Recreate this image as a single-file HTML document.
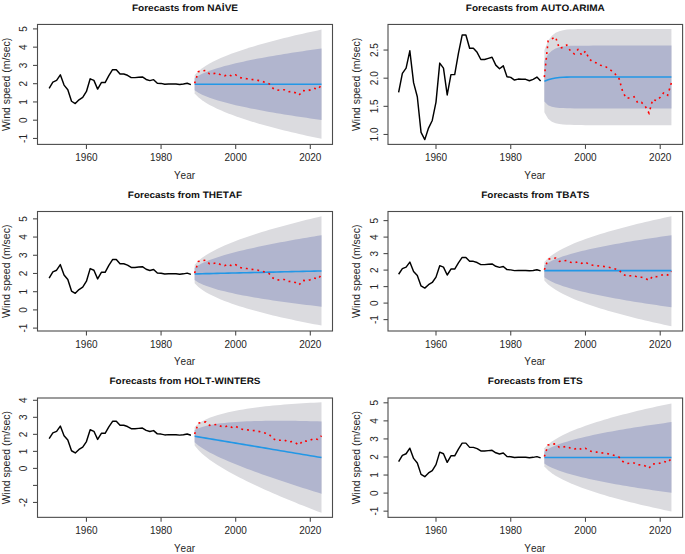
<!DOCTYPE html>
<html><head><meta charset="utf-8"><style>
html,body{margin:0;padding:0;background:#fff;}
svg{display:block;}
text{font-kerning:none;}
.t{font-family:"Liberation Sans",sans-serif;font-size:10px;fill:#262626;}
.yl{font-family:"Liberation Sans",sans-serif;font-size:10.5px;fill:#262626;}
.ti{text-rendering:geometricPrecision;font-family:"Liberation Sans",sans-serif;font-size:9.3px;font-weight:bold;fill:#111;}
</style></head><body>
<svg width="685" height="554" viewBox="0 0 685 554">
<rect width="685" height="554" fill="#fff"/>
<g><polygon points="194.65,93.46 198.38,97.29 202.11,100.22 205.84,102.7 209.57,104.88 213.3,106.85 217.04,108.66 220.77,110.34 224.5,111.93 228.23,113.43 231.96,114.85 235.69,116.21 239.42,117.52 243.15,118.78 246.88,119.99 250.61,121.16 254.34,122.3 258.08,123.4 261.81,124.48 265.54,125.52 269.27,126.54 273,127.54 276.73,128.51 280.46,129.46 284.19,130.4 287.92,131.31 291.65,132.21 295.39,133.09 299.12,133.95 302.85,134.8 306.58,135.64 310.31,136.46 314.04,137.27 317.77,138.07 321.5,138.86 321.5,29.6 317.77,30.39 314.04,31.18 310.31,31.99 306.58,32.82 302.85,33.65 299.12,34.5 295.39,35.37 291.65,36.25 287.92,37.14 284.19,38.06 280.46,38.99 276.73,39.94 273,40.92 269.27,41.91 265.54,42.93 261.81,43.98 258.08,45.05 254.34,46.16 250.61,47.29 246.88,48.47 243.15,49.68 239.42,50.94 235.69,52.24 231.96,53.6 228.23,55.03 224.5,56.53 220.77,58.11 217.04,59.8 213.3,61.61 209.57,63.58 205.84,65.76 202.11,68.23 198.38,71.17 194.65,74.99" fill="#DBDBDF"/><polygon points="194.65,90.27 198.38,92.77 202.11,94.69 205.84,96.3 209.57,97.73 213.3,99.02 217.04,100.2 220.77,101.31 224.5,102.34 228.23,103.32 231.96,104.25 235.69,105.14 239.42,106 243.15,106.82 246.88,107.61 250.61,108.38 254.34,109.12 258.08,109.84 261.81,110.55 265.54,111.23 269.27,111.9 273,112.55 276.73,113.18 280.46,113.81 284.19,114.42 287.92,115.01 291.65,115.6 295.39,116.18 299.12,116.74 302.85,117.3 306.58,117.84 310.31,118.38 314.04,118.91 317.77,119.43 321.5,119.95 321.5,48.51 317.77,49.02 314.04,49.54 310.31,50.07 306.58,50.61 302.85,51.16 299.12,51.71 295.39,52.28 291.65,52.85 287.92,53.44 284.19,54.04 280.46,54.65 276.73,55.27 273,55.91 269.27,56.56 265.54,57.23 261.81,57.91 258.08,58.61 254.34,59.33 250.61,60.08 246.88,60.84 243.15,61.64 239.42,62.46 235.69,63.31 231.96,64.2 228.23,65.13 224.5,66.11 220.77,67.15 217.04,68.25 213.3,69.44 209.57,70.73 205.84,72.15 202.11,73.77 198.38,75.69 194.65,78.19" fill="#B1B5CE"/><polyline points="49.14,88.26 52.87,82.11 56.6,80.41 60.33,74.81 64.06,85.12 67.8,89.69 71.53,101.26 75.26,103.6 78.99,99.86 82.72,97.39 86.45,91.44 90.18,78.79 93.91,80.41 97.64,89.1 101.37,82.53 105.11,82.53 108.84,75.65 112.57,69.67 116.3,69.67 120.03,73.97 123.76,73.97 127.49,75.28 131.22,77.62 134.95,77.62 138.68,77.25 142.41,76.91 146.15,79.44 149.88,80.63 153.61,79.66 157.34,83.19 161.07,83.41 164.8,84.28 168.53,83.97 172.26,84.05 175.99,84.05 179.72,84.5 183.46,84.05 187.19,83.31 190.92,84.59" fill="none" stroke="#000" stroke-width="1.45" stroke-linejoin="round"/><polyline points="194.65,84.23 198.38,84.23 202.11,84.23 205.84,84.23 209.57,84.23 213.3,84.23 217.04,84.23 220.77,84.23 224.5,84.23 228.23,84.23 231.96,84.23 235.69,84.23 239.42,84.23 243.15,84.23 246.88,84.23 250.61,84.23 254.34,84.23 258.08,84.23 261.81,84.23 265.54,84.23 269.27,84.23 273,84.23 276.73,84.23 280.46,84.23 284.19,84.23 287.92,84.23 291.65,84.23 295.39,84.23 299.12,84.23 302.85,84.23 306.58,84.23 310.31,84.23 314.04,84.23 317.77,84.23 321.5,84.23" fill="none" stroke="#2297E6" stroke-width="1.6"/><polyline points="194.65,83.31 198.38,71.63 202.11,70.9 205.84,70.35 209.57,74 213.3,73.64 217.04,72.91 220.77,74.92 224.5,75.83 228.23,74.37 231.96,76.19 235.69,74.92 239.42,77.47 243.15,78.38 246.88,78.75 250.61,79.48 254.34,79.66 258.08,80.39 261.81,81.31 265.54,82.4 269.27,83.86 273,88.25 276.73,90.25 280.46,89.98 284.19,89.71 287.92,91.71 291.65,91.53 295.39,92.81 299.12,95 302.85,90.62 306.58,90.98 310.31,89.89 314.04,88.25 317.77,89.16 321.5,85.14" fill="none" stroke="#F00" stroke-width="1.6" stroke-dasharray="1.9 3.9"/><rect x="37.5" y="24.45" width="295" height="119.95" fill="none" stroke="#4c4c4c" stroke-width="1.1"/><line x1="86.45" y1="144.4" x2="86.45" y2="148.9" stroke="#4c4c4c" stroke-width="1.1"/><text x="86.45" y="161.2" text-anchor="middle" class="t">1960</text><line x1="161.07" y1="144.4" x2="161.07" y2="148.9" stroke="#4c4c4c" stroke-width="1.1"/><text x="161.07" y="161.2" text-anchor="middle" class="t">1980</text><line x1="235.69" y1="144.4" x2="235.69" y2="148.9" stroke="#4c4c4c" stroke-width="1.1"/><text x="235.69" y="161.2" text-anchor="middle" class="t">2000</text><line x1="310.31" y1="144.4" x2="310.31" y2="148.9" stroke="#4c4c4c" stroke-width="1.1"/><text x="310.31" y="161.2" text-anchor="middle" class="t">2020</text><line x1="33" y1="138.46" x2="37.5" y2="138.46" stroke="#4c4c4c" stroke-width="1.1"/><text transform="translate(27,138.46) rotate(-90)" text-anchor="middle" class="t">-1</text><line x1="33" y1="120.2" x2="37.5" y2="120.2" stroke="#4c4c4c" stroke-width="1.1"/><text transform="translate(27,120.2) rotate(-90)" text-anchor="middle" class="t">0</text><line x1="33" y1="101.94" x2="37.5" y2="101.94" stroke="#4c4c4c" stroke-width="1.1"/><text transform="translate(27,101.94) rotate(-90)" text-anchor="middle" class="t">1</text><line x1="33" y1="83.68" x2="37.5" y2="83.68" stroke="#4c4c4c" stroke-width="1.1"/><text transform="translate(27,83.68) rotate(-90)" text-anchor="middle" class="t">2</text><line x1="33" y1="65.42" x2="37.5" y2="65.42" stroke="#4c4c4c" stroke-width="1.1"/><text transform="translate(27,65.42) rotate(-90)" text-anchor="middle" class="t">3</text><line x1="33" y1="47.16" x2="37.5" y2="47.16" stroke="#4c4c4c" stroke-width="1.1"/><text transform="translate(27,47.16) rotate(-90)" text-anchor="middle" class="t">4</text><line x1="33" y1="28.9" x2="37.5" y2="28.9" stroke="#4c4c4c" stroke-width="1.1"/><text transform="translate(27,28.9) rotate(-90)" text-anchor="middle" class="t">5</text><text x="184.5" y="178.7" text-anchor="middle" class="t">Year</text><text transform="translate(9.5,84.42) rotate(-90)" text-anchor="middle" class="yl">Wind speed (m/sec)</text><text x="185" y="10.85" text-anchor="middle" class="ti" textLength="106.19" lengthAdjust="spacingAndGlyphs">Forecasts from NAİVE</text></g>
<g><polygon points="544.37,112.18 548.11,118.74 551.85,121.74 555.58,123.2 559.32,123.98 563.06,124.41 566.8,124.65 570.53,124.83 574.27,124.97 578.01,125.05 581.74,125.1 585.48,125.13 589.22,125.14 592.95,125.15 596.69,125.16 600.43,125.16 604.16,125.16 607.9,125.17 611.64,125.17 615.38,125.17 619.11,125.17 622.85,125.17 626.59,125.17 630.32,125.17 634.06,125.17 637.8,125.17 641.53,125.17 645.27,125.17 649.01,125.17 652.75,125.17 656.48,125.17 660.22,125.17 663.96,125.17 667.69,125.17 671.43,125.17 671.43,28.96 667.69,28.96 663.96,28.96 660.22,28.96 656.48,28.96 652.75,28.96 649.01,28.96 645.27,28.96 641.53,28.96 637.8,28.96 634.06,28.96 630.32,28.96 626.59,28.96 622.85,28.96 619.11,28.96 615.38,28.96 611.64,28.96 607.9,28.96 604.16,28.96 600.43,28.97 596.69,28.97 592.95,28.97 589.22,28.98 585.48,29 581.74,29.03 578.01,29.08 574.27,29.16 570.53,29.3 566.8,29.59 563.06,30.17 559.32,31.16 555.58,32.84 551.85,35.76 548.11,40.79 544.37,50.28" fill="#DBDBDF"/><polygon points="544.37,101.47 548.11,105.25 551.85,106.86 555.58,107.56 559.32,107.92 563.06,108.1 566.8,108.2 570.53,108.3 574.27,108.39 578.01,108.44 581.74,108.47 585.48,108.49 589.22,108.5 592.95,108.51 596.69,108.51 600.43,108.51 604.16,108.52 607.9,108.52 611.64,108.52 615.38,108.52 619.11,108.52 622.85,108.52 626.59,108.52 630.32,108.52 634.06,108.52 637.8,108.52 641.53,108.52 645.27,108.52 649.01,108.52 652.75,108.52 656.48,108.52 660.22,108.52 663.96,108.52 667.69,108.52 671.43,108.52 671.43,45.61 667.69,45.61 663.96,45.61 660.22,45.61 656.48,45.61 652.75,45.61 649.01,45.61 645.27,45.61 641.53,45.61 637.8,45.61 634.06,45.61 630.32,45.61 626.59,45.61 622.85,45.61 619.11,45.61 615.38,45.61 611.64,45.61 607.9,45.61 604.16,45.61 600.43,45.61 596.69,45.62 592.95,45.62 589.22,45.63 585.48,45.64 581.74,45.65 578.01,45.69 574.27,45.74 570.53,45.83 566.8,46.04 563.06,46.48 559.32,47.22 555.58,48.48 551.85,50.64 548.11,54.28 544.37,60.99" fill="#B1B5CE"/><polyline points="398.63,92.32 402.37,73.35 406.1,68.11 409.84,50.83 413.58,82.64 417.31,96.71 421.05,132.4 424.79,139.6 428.53,128.06 432.26,120.46 436,102.11 439.74,63.1 443.47,68.11 447.21,94.91 450.95,74.64 454.69,74.64 458.42,53.42 462.16,35.02 465.9,35.02 469.63,48.24 473.37,48.24 477.11,52.3 480.84,59.5 484.58,59.5 488.32,58.38 492.06,57.31 495.79,65.13 499.53,68.79 503.27,65.81 507,76.67 510.74,77.35 514.48,80.05 518.21,79.09 521.95,79.32 525.69,79.32 529.42,80.72 533.16,79.32 536.9,77.06 540.64,81" fill="none" stroke="#000" stroke-width="1.45" stroke-linejoin="round"/><polyline points="544.37,81.23 548.11,79.77 551.85,78.75 555.58,78.02 559.32,77.57 563.06,77.29 566.8,77.12 570.53,77.06 574.27,77.06 578.01,77.06 581.74,77.06 585.48,77.06 589.22,77.06 592.95,77.06 596.69,77.06 600.43,77.06 604.16,77.06 607.9,77.06 611.64,77.06 615.38,77.06 619.11,77.06 622.85,77.06 626.59,77.06 630.32,77.06 634.06,77.06 637.8,77.06 641.53,77.06 645.27,77.06 649.01,77.06 652.75,77.06 656.48,77.06 660.22,77.06 663.96,77.06 667.69,77.06 671.43,77.06" fill="none" stroke="#2297E6" stroke-width="1.6"/><polyline points="544.37,77.06 548.11,41.04 551.85,38.79 555.58,37.1 559.32,48.36 563.06,47.23 566.8,44.98 570.53,51.17 574.27,53.99 578.01,49.48 581.74,55.11 585.48,51.17 589.22,59.05 592.95,61.87 596.69,62.99 600.43,65.24 604.16,65.81 607.9,68.06 611.64,70.87 615.38,74.25 619.11,78.75 622.85,92.26 626.59,98.45 630.32,97.61 634.06,96.77 637.8,102.96 641.53,102.39 645.27,106.34 649.01,113.09 652.75,99.58 656.48,100.71 660.22,97.33 663.96,92.26 667.69,95.08 671.43,82.69" fill="none" stroke="#F00" stroke-width="1.6" stroke-dasharray="1.9 3.9"/><rect x="388.0" y="24.45" width="294.6" height="119.95" fill="none" stroke="#4c4c4c" stroke-width="1.1"/><line x1="436" y1="144.4" x2="436" y2="148.9" stroke="#4c4c4c" stroke-width="1.1"/><text x="436" y="161.2" text-anchor="middle" class="t">1960</text><line x1="510.74" y1="144.4" x2="510.74" y2="148.9" stroke="#4c4c4c" stroke-width="1.1"/><text x="510.74" y="161.2" text-anchor="middle" class="t">1980</text><line x1="585.48" y1="144.4" x2="585.48" y2="148.9" stroke="#4c4c4c" stroke-width="1.1"/><text x="585.48" y="161.2" text-anchor="middle" class="t">2000</text><line x1="660.22" y1="144.4" x2="660.22" y2="148.9" stroke="#4c4c4c" stroke-width="1.1"/><text x="660.22" y="161.2" text-anchor="middle" class="t">2020</text><line x1="383.5" y1="134.48" x2="388.0" y2="134.48" stroke="#4c4c4c" stroke-width="1.1"/><text transform="translate(377.5,134.48) rotate(-90)" text-anchor="middle" class="t">1.0</text><line x1="383.5" y1="106.34" x2="388.0" y2="106.34" stroke="#4c4c4c" stroke-width="1.1"/><text transform="translate(377.5,106.34) rotate(-90)" text-anchor="middle" class="t">1.5</text><line x1="383.5" y1="78.19" x2="388.0" y2="78.19" stroke="#4c4c4c" stroke-width="1.1"/><text transform="translate(377.5,78.19) rotate(-90)" text-anchor="middle" class="t">2.0</text><line x1="383.5" y1="50.05" x2="388.0" y2="50.05" stroke="#4c4c4c" stroke-width="1.1"/><text transform="translate(377.5,50.05) rotate(-90)" text-anchor="middle" class="t">2.5</text><text x="534.8" y="178.7" text-anchor="middle" class="t">Year</text><text transform="translate(360,84.42) rotate(-90)" text-anchor="middle" class="yl">Wind speed (m/sec)</text><text x="535.3" y="10.85" text-anchor="middle" class="ti" textLength="138.96" lengthAdjust="spacingAndGlyphs">Forecasts from AUTO.ARIMA</text></g>
<g><polygon points="194.65,283.17 198.38,286.9 202.11,289.75 205.84,292.14 209.57,294.23 213.3,296.11 217.04,297.83 220.77,299.43 224.5,300.93 228.23,302.34 231.96,303.68 235.69,304.95 239.42,306.17 243.15,307.33 246.88,308.46 250.61,309.54 254.34,310.59 258.08,311.61 261.81,312.59 265.54,313.55 269.27,314.48 273,315.39 276.73,316.27 280.46,317.14 284.19,317.98 287.92,318.81 291.65,319.62 295.39,320.41 299.12,321.18 302.85,321.95 306.58,322.69 310.31,323.43 314.04,324.15 317.77,324.86 321.5,325.56 321.5,216.3 317.77,217.18 314.04,218.07 310.31,218.96 306.58,219.87 302.85,220.8 299.12,221.74 295.39,222.69 291.65,223.66 287.92,224.64 284.19,225.65 280.46,226.67 276.73,227.71 273,228.77 269.27,229.85 265.54,230.96 261.81,232.1 258.08,233.26 254.34,234.45 250.61,235.68 246.88,236.94 243.15,238.24 239.42,239.58 235.69,240.98 231.96,242.43 228.23,243.94 224.5,245.53 220.77,247.2 217.04,248.98 213.3,250.88 209.57,252.94 205.84,255.2 202.11,257.77 198.38,260.79 194.65,264.7" fill="#DBDBDF"/><polygon points="194.65,279.97 198.38,282.39 202.11,284.22 205.84,285.75 209.57,287.08 213.3,288.28 217.04,289.38 220.77,290.39 224.5,291.34 228.23,292.23 231.96,293.08 235.69,293.88 239.42,294.64 243.15,295.38 246.88,296.08 250.61,296.76 254.34,297.41 258.08,298.05 261.81,298.66 265.54,299.26 269.27,299.84 273,300.4 276.73,300.95 280.46,301.48 284.19,302 287.92,302.51 291.65,303.01 295.39,303.5 299.12,303.97 302.85,304.44 306.58,304.9 310.31,305.35 314.04,305.79 317.77,306.22 321.5,306.65 321.5,235.21 317.77,235.81 314.04,236.42 310.31,237.04 306.58,237.67 302.85,238.3 299.12,238.95 295.39,239.6 291.65,240.27 287.92,240.94 284.19,241.63 280.46,242.32 276.73,243.04 273,243.76 269.27,244.5 265.54,245.26 261.81,246.03 258.08,246.82 254.34,247.63 250.61,248.46 246.88,249.31 243.15,250.2 239.42,251.11 235.69,252.05 231.96,253.03 228.23,254.05 224.5,255.12 220.77,256.24 217.04,257.43 213.3,258.7 209.57,260.08 205.84,261.6 202.11,263.3 198.38,265.31 194.65,267.9" fill="#B1B5CE"/><polyline points="49.14,278.05 52.87,271.91 56.6,270.22 60.33,264.63 64.06,274.92 67.8,279.47 71.53,291.02 75.26,293.35 78.99,289.61 82.72,287.16 86.45,281.22 90.18,268.6 93.91,270.22 97.64,278.89 101.37,272.33 105.11,272.33 108.84,265.47 112.57,259.51 116.3,259.51 120.03,263.79 123.76,263.79 127.49,265.1 131.22,267.43 134.95,267.43 138.68,267.07 142.41,266.72 146.15,269.26 149.88,270.44 153.61,269.47 157.34,272.99 161.07,273.21 164.8,274.08 168.53,273.77 172.26,273.84 175.99,273.84 179.72,274.3 183.46,273.84 187.19,273.12 190.92,274.39" fill="none" stroke="#000" stroke-width="1.45" stroke-linejoin="round"/><polyline points="194.65,273.94 198.38,273.85 202.11,273.76 205.84,273.67 209.57,273.58 213.3,273.49 217.04,273.41 220.77,273.32 224.5,273.23 228.23,273.14 231.96,273.05 235.69,272.96 239.42,272.87 243.15,272.79 246.88,272.7 250.61,272.61 254.34,272.52 258.08,272.43 261.81,272.34 265.54,272.26 269.27,272.17 273,272.08 276.73,271.99 280.46,271.9 284.19,271.81 287.92,271.73 291.65,271.64 295.39,271.55 299.12,271.46 302.85,271.37 306.58,271.28 310.31,271.2 314.04,271.11 317.77,271.02 321.5,270.93" fill="none" stroke="#2297E6" stroke-width="1.6"/><polyline points="194.65,273.12 198.38,261.46 202.11,260.73 205.84,260.19 209.57,263.83 213.3,263.46 217.04,262.74 220.77,264.74 224.5,265.65 228.23,264.19 231.96,266.01 235.69,264.74 239.42,267.29 243.15,268.2 246.88,268.56 250.61,269.29 254.34,269.47 258.08,270.2 261.81,271.11 265.54,272.21 269.27,273.66 273,278.03 276.73,280.04 280.46,279.76 284.19,279.49 287.92,281.49 291.65,281.31 295.39,282.58 299.12,284.77 302.85,280.4 306.58,280.76 310.31,279.67 314.04,278.03 317.77,278.94 321.5,274.94" fill="none" stroke="#F00" stroke-width="1.6" stroke-dasharray="1.9 3.9"/><rect x="37.5" y="211.5" width="295" height="119.5" fill="none" stroke="#4c4c4c" stroke-width="1.1"/><line x1="86.45" y1="331.0" x2="86.45" y2="335.5" stroke="#4c4c4c" stroke-width="1.1"/><text x="86.45" y="347.8" text-anchor="middle" class="t">1960</text><line x1="161.07" y1="331.0" x2="161.07" y2="335.5" stroke="#4c4c4c" stroke-width="1.1"/><text x="161.07" y="347.8" text-anchor="middle" class="t">1980</text><line x1="235.69" y1="331.0" x2="235.69" y2="335.5" stroke="#4c4c4c" stroke-width="1.1"/><text x="235.69" y="347.8" text-anchor="middle" class="t">2000</text><line x1="310.31" y1="331.0" x2="310.31" y2="335.5" stroke="#4c4c4c" stroke-width="1.1"/><text x="310.31" y="347.8" text-anchor="middle" class="t">2020</text><line x1="33" y1="328.11" x2="37.5" y2="328.11" stroke="#4c4c4c" stroke-width="1.1"/><text transform="translate(27,328.11) rotate(-90)" text-anchor="middle" class="t">-1</text><line x1="33" y1="309.9" x2="37.5" y2="309.9" stroke="#4c4c4c" stroke-width="1.1"/><text transform="translate(27,309.9) rotate(-90)" text-anchor="middle" class="t">0</text><line x1="33" y1="291.69" x2="37.5" y2="291.69" stroke="#4c4c4c" stroke-width="1.1"/><text transform="translate(27,291.69) rotate(-90)" text-anchor="middle" class="t">1</text><line x1="33" y1="273.48" x2="37.5" y2="273.48" stroke="#4c4c4c" stroke-width="1.1"/><text transform="translate(27,273.48) rotate(-90)" text-anchor="middle" class="t">2</text><line x1="33" y1="255.27" x2="37.5" y2="255.27" stroke="#4c4c4c" stroke-width="1.1"/><text transform="translate(27,255.27) rotate(-90)" text-anchor="middle" class="t">3</text><line x1="33" y1="237.06" x2="37.5" y2="237.06" stroke="#4c4c4c" stroke-width="1.1"/><text transform="translate(27,237.06) rotate(-90)" text-anchor="middle" class="t">4</text><line x1="33" y1="218.85" x2="37.5" y2="218.85" stroke="#4c4c4c" stroke-width="1.1"/><text transform="translate(27,218.85) rotate(-90)" text-anchor="middle" class="t">5</text><text x="184.5" y="365.3" text-anchor="middle" class="t">Year</text><text transform="translate(9.5,271.25) rotate(-90)" text-anchor="middle" class="yl">Wind speed (m/sec)</text><text x="185" y="197.9" text-anchor="middle" class="ti" textLength="114.33" lengthAdjust="spacingAndGlyphs">Forecasts from THETAF</text></g>
<g><polygon points="544.37,280.54 548.11,284.39 551.85,287.34 555.58,289.83 559.32,292.03 563.06,294.01 566.8,295.84 570.53,297.54 574.27,299.13 578.01,300.64 581.74,302.08 585.48,303.45 589.22,304.76 592.95,306.03 596.69,307.25 600.43,308.43 604.16,309.57 607.9,310.69 611.64,311.77 615.38,312.82 619.11,313.85 622.85,314.85 626.59,315.83 630.32,316.79 634.06,317.73 637.8,318.65 641.53,319.55 645.27,320.44 649.01,321.31 652.75,322.16 656.48,323.01 660.22,323.83 663.96,324.65 667.69,325.45 671.43,326.24 671.43,216.23 667.69,217.02 663.96,217.83 660.22,218.64 656.48,219.47 652.75,220.31 649.01,221.17 645.27,222.04 641.53,222.93 637.8,223.83 634.06,224.75 630.32,225.69 626.59,226.65 622.85,227.63 619.11,228.63 615.38,229.66 611.64,230.71 607.9,231.79 604.16,232.9 600.43,234.05 596.69,235.23 592.95,236.45 589.22,237.71 585.48,239.03 581.74,240.4 578.01,241.84 574.27,243.35 570.53,244.94 566.8,246.64 563.06,248.46 559.32,250.45 555.58,252.64 551.85,255.13 548.11,258.09 544.37,261.94" fill="#DBDBDF"/><polygon points="544.37,277.32 548.11,279.84 551.85,281.77 555.58,283.4 559.32,284.83 563.06,286.13 566.8,287.32 570.53,288.43 574.27,289.48 578.01,290.46 581.74,291.4 585.48,292.3 589.22,293.16 592.95,293.99 596.69,294.78 600.43,295.56 604.16,296.31 607.9,297.03 611.64,297.74 615.38,298.43 619.11,299.1 622.85,299.75 626.59,300.4 630.32,301.02 634.06,301.64 637.8,302.24 641.53,302.83 645.27,303.41 649.01,303.98 652.75,304.54 656.48,305.09 660.22,305.63 663.96,306.16 667.69,306.69 671.43,307.21 671.43,235.27 667.69,235.79 663.96,236.31 660.22,236.85 656.48,237.39 652.75,237.94 649.01,238.5 645.27,239.07 641.53,239.65 637.8,240.24 634.06,240.84 630.32,241.45 626.59,242.08 622.85,242.72 619.11,243.38 615.38,244.05 611.64,244.74 607.9,245.44 604.16,246.17 600.43,246.92 596.69,247.69 592.95,248.49 589.22,249.32 585.48,250.18 581.74,251.07 578.01,252.01 574.27,253 570.53,254.04 566.8,255.15 563.06,256.35 559.32,257.64 555.58,259.08 551.85,260.71 548.11,262.64 544.37,265.16" fill="#B1B5CE"/><polyline points="398.63,274.24 402.37,268.68 406.1,267.15 409.84,262.08 413.58,271.4 417.31,275.53 421.05,285.99 424.79,288.1 428.53,284.72 432.26,282.49 436,277.11 439.74,265.68 443.47,267.15 447.21,275 450.95,269.06 454.69,269.06 458.42,262.84 462.16,257.44 465.9,257.44 469.63,261.32 473.37,261.32 477.11,262.51 480.84,264.62 484.58,264.62 488.32,264.29 492.06,263.98 495.79,266.27 499.53,267.34 503.27,266.47 507,269.65 510.74,269.85 514.48,270.64 518.21,270.36 521.95,270.43 525.69,270.43 529.42,270.84 533.16,270.43 536.9,269.77 540.64,270.93" fill="none" stroke="#000" stroke-width="1.45" stroke-linejoin="round"/><polyline points="544.37,270.66 548.11,270.66 551.85,270.66 555.58,270.66 559.32,270.66 563.06,270.66 566.8,270.66 570.53,270.66 574.27,270.66 578.01,270.66 581.74,270.66 585.48,270.66 589.22,270.66 592.95,270.66 596.69,270.66 600.43,270.66 604.16,270.66 607.9,270.66 611.64,270.66 615.38,270.66 619.11,270.66 622.85,270.66 626.59,270.66 630.32,270.66 634.06,270.66 637.8,270.66 641.53,270.66 645.27,270.66 649.01,270.66 652.75,270.66 656.48,270.66 660.22,270.66 663.96,270.66 667.69,270.66 671.43,270.66" fill="none" stroke="#2297E6" stroke-width="1.6"/><polyline points="544.37,269.77 548.11,259.21 551.85,258.55 555.58,258.06 559.32,261.36 563.06,261.03 566.8,260.37 570.53,262.18 574.27,263 578.01,261.69 581.74,263.34 585.48,262.18 589.22,264.49 592.95,265.31 596.69,265.65 600.43,266.31 604.16,266.47 607.9,267.13 611.64,267.96 615.38,268.95 619.11,270.27 622.85,274.23 626.59,276.04 630.32,275.79 634.06,275.55 637.8,277.36 641.53,277.2 645.27,278.35 649.01,280.33 652.75,276.37 656.48,276.7 660.22,275.71 663.96,274.23 667.69,275.05 671.43,271.42" fill="none" stroke="#F00" stroke-width="1.6" stroke-dasharray="1.9 3.9"/><rect x="388.0" y="211.5" width="294.6" height="119.5" fill="none" stroke="#4c4c4c" stroke-width="1.1"/><line x1="436" y1="331.0" x2="436" y2="335.5" stroke="#4c4c4c" stroke-width="1.1"/><text x="436" y="347.8" text-anchor="middle" class="t">1960</text><line x1="510.74" y1="331.0" x2="510.74" y2="335.5" stroke="#4c4c4c" stroke-width="1.1"/><text x="510.74" y="347.8" text-anchor="middle" class="t">1980</text><line x1="585.48" y1="331.0" x2="585.48" y2="335.5" stroke="#4c4c4c" stroke-width="1.1"/><text x="585.48" y="347.8" text-anchor="middle" class="t">2000</text><line x1="660.22" y1="331.0" x2="660.22" y2="335.5" stroke="#4c4c4c" stroke-width="1.1"/><text x="660.22" y="347.8" text-anchor="middle" class="t">2020</text><line x1="383.5" y1="319.6" x2="388.0" y2="319.6" stroke="#4c4c4c" stroke-width="1.1"/><text transform="translate(377.5,319.6) rotate(-90)" text-anchor="middle" class="t">-1</text><line x1="383.5" y1="303.1" x2="388.0" y2="303.1" stroke="#4c4c4c" stroke-width="1.1"/><text transform="translate(377.5,303.1) rotate(-90)" text-anchor="middle" class="t">0</text><line x1="383.5" y1="286.6" x2="388.0" y2="286.6" stroke="#4c4c4c" stroke-width="1.1"/><text transform="translate(377.5,286.6) rotate(-90)" text-anchor="middle" class="t">1</text><line x1="383.5" y1="270.1" x2="388.0" y2="270.1" stroke="#4c4c4c" stroke-width="1.1"/><text transform="translate(377.5,270.1) rotate(-90)" text-anchor="middle" class="t">2</text><line x1="383.5" y1="253.6" x2="388.0" y2="253.6" stroke="#4c4c4c" stroke-width="1.1"/><text transform="translate(377.5,253.6) rotate(-90)" text-anchor="middle" class="t">3</text><line x1="383.5" y1="237.1" x2="388.0" y2="237.1" stroke="#4c4c4c" stroke-width="1.1"/><text transform="translate(377.5,237.1) rotate(-90)" text-anchor="middle" class="t">4</text><line x1="383.5" y1="220.6" x2="388.0" y2="220.6" stroke="#4c4c4c" stroke-width="1.1"/><text transform="translate(377.5,220.6) rotate(-90)" text-anchor="middle" class="t">5</text><text x="534.8" y="365.3" text-anchor="middle" class="t">Year</text><text transform="translate(360,271.25) rotate(-90)" text-anchor="middle" class="yl">Wind speed (m/sec)</text><text x="535.3" y="197.9" text-anchor="middle" class="ti" textLength="108.22" lengthAdjust="spacingAndGlyphs">Forecasts from TBATS</text></g>
<g><polygon points="194.65,445.57 198.38,450.06 202.11,453.66 205.84,456.79 209.57,459.63 213.3,462.25 217.04,464.71 220.77,467.05 224.5,469.28 228.23,471.42 231.96,473.49 235.69,475.5 239.42,477.45 243.15,479.35 246.88,481.2 250.61,483.02 254.34,484.8 258.08,486.54 261.81,488.26 265.54,489.94 269.27,491.6 273,493.24 276.73,494.85 280.46,496.44 284.19,498.02 287.92,499.57 291.65,501.11 295.39,502.62 299.12,504.13 302.85,505.62 306.58,507.09 310.31,508.55 314.04,510 317.77,511.43 321.5,512.86 321.5,402.31 317.77,402.47 314.04,402.65 310.31,402.84 306.58,403.05 302.85,403.27 299.12,403.5 295.39,403.74 291.65,404.01 287.92,404.29 284.19,404.58 280.46,404.9 276.73,405.23 273,405.59 269.27,405.97 265.54,406.37 261.81,406.8 258.08,407.26 254.34,407.75 250.61,408.27 246.88,408.83 243.15,409.43 239.42,410.07 235.69,410.77 231.96,411.52 228.23,412.33 224.5,413.22 220.77,414.19 217.04,415.27 213.3,416.48 209.57,417.84 205.84,419.42 202.11,421.3 198.38,423.64 194.65,426.88" fill="#DBDBDF"/><polygon points="194.65,442.33 198.38,445.49 202.11,448.06 205.84,450.33 209.57,452.4 213.3,454.33 217.04,456.16 220.77,457.9 224.5,459.58 228.23,461.2 231.96,462.77 235.69,464.3 239.42,465.79 243.15,467.25 246.88,468.68 250.61,470.08 254.34,471.46 258.08,472.82 261.81,474.16 265.54,475.48 269.27,476.78 273,478.07 276.73,479.34 280.46,480.6 284.19,481.85 287.92,483.08 291.65,484.3 295.39,485.51 299.12,486.71 302.85,487.9 306.58,489.09 310.31,490.26 314.04,491.42 317.77,492.58 321.5,493.73 321.5,421.44 317.77,421.33 314.04,421.23 310.31,421.14 306.58,421.05 302.85,420.98 299.12,420.91 295.39,420.86 291.65,420.81 287.92,420.78 284.19,420.75 280.46,420.74 276.73,420.74 273,420.76 269.27,420.79 265.54,420.84 261.81,420.9 258.08,420.98 254.34,421.08 250.61,421.21 246.88,421.36 243.15,421.53 239.42,421.73 235.69,421.97 231.96,422.24 228.23,422.56 224.5,422.92 220.77,423.34 217.04,423.83 213.3,424.4 209.57,425.07 205.84,425.89 202.11,426.9 198.38,428.21 194.65,430.11" fill="#B1B5CE"/><polyline points="49.14,438.62 52.87,432.89 56.6,431.3 60.33,426.08 64.06,435.69 67.8,439.95 71.53,450.75 75.26,452.92 78.99,449.43 82.72,447.14 86.45,441.59 90.18,429.79 93.91,431.3 97.64,439.41 101.37,433.28 105.11,433.28 108.84,426.86 112.57,421.29 116.3,421.29 120.03,425.29 123.76,425.29 127.49,426.52 131.22,428.7 134.95,428.7 138.68,428.36 142.41,428.03 146.15,430.4 149.88,431.51 153.61,430.6 157.34,433.89 161.07,434.09 164.8,434.91 168.53,434.62 172.26,434.69 175.99,434.69 179.72,435.12 183.46,434.69 187.19,434.01 190.92,435.2" fill="none" stroke="#000" stroke-width="1.45" stroke-linejoin="round"/><polyline points="194.65,436.22 198.38,436.85 202.11,437.48 205.84,438.11 209.57,438.74 213.3,439.36 217.04,439.99 220.77,440.62 224.5,441.25 228.23,441.88 231.96,442.5 235.69,443.13 239.42,443.76 243.15,444.39 246.88,445.02 250.61,445.65 254.34,446.27 258.08,446.9 261.81,447.53 265.54,448.16 269.27,448.79 273,449.42 276.73,450.04 280.46,450.67 284.19,451.3 287.92,451.93 291.65,452.56 295.39,453.18 299.12,453.81 302.85,454.44 306.58,455.07 310.31,455.7 314.04,456.33 317.77,456.95 321.5,457.58" fill="none" stroke="#2297E6" stroke-width="1.6"/><polyline points="194.65,434.01 198.38,423.11 202.11,422.43 205.84,421.92 209.57,425.33 213.3,424.99 217.04,424.31 220.77,426.18 224.5,427.03 228.23,425.67 231.96,427.37 235.69,426.18 239.42,428.56 243.15,429.41 246.88,429.75 250.61,430.43 254.34,430.6 258.08,431.29 261.81,432.14 265.54,433.16 269.27,434.52 273,438.61 276.73,440.48 280.46,440.22 284.19,439.97 287.92,441.84 291.65,441.67 295.39,442.86 299.12,444.91 302.85,440.82 306.58,441.16 310.31,440.14 314.04,438.61 317.77,439.46 321.5,435.71" fill="none" stroke="#F00" stroke-width="1.6" stroke-dasharray="1.9 3.9"/><rect x="37.5" y="398.0" width="295" height="119.35" fill="none" stroke="#4c4c4c" stroke-width="1.1"/><line x1="86.45" y1="517.35" x2="86.45" y2="521.85" stroke="#4c4c4c" stroke-width="1.1"/><text x="86.45" y="534.15" text-anchor="middle" class="t">1960</text><line x1="161.07" y1="517.35" x2="161.07" y2="521.85" stroke="#4c4c4c" stroke-width="1.1"/><text x="161.07" y="534.15" text-anchor="middle" class="t">1980</text><line x1="235.69" y1="517.35" x2="235.69" y2="521.85" stroke="#4c4c4c" stroke-width="1.1"/><text x="235.69" y="534.15" text-anchor="middle" class="t">2000</text><line x1="310.31" y1="517.35" x2="310.31" y2="521.85" stroke="#4c4c4c" stroke-width="1.1"/><text x="310.31" y="534.15" text-anchor="middle" class="t">2020</text><line x1="33" y1="502.45" x2="37.5" y2="502.45" stroke="#4c4c4c" stroke-width="1.1"/><text transform="translate(27,502.45) rotate(-90)" text-anchor="middle" class="t">-2</text><line x1="33" y1="485.42" x2="37.5" y2="485.42" stroke="#4c4c4c" stroke-width="1.1"/><line x1="33" y1="468.4" x2="37.5" y2="468.4" stroke="#4c4c4c" stroke-width="1.1"/><text transform="translate(27,468.4) rotate(-90)" text-anchor="middle" class="t">0</text><line x1="33" y1="451.38" x2="37.5" y2="451.38" stroke="#4c4c4c" stroke-width="1.1"/><text transform="translate(27,451.38) rotate(-90)" text-anchor="middle" class="t">1</text><line x1="33" y1="434.35" x2="37.5" y2="434.35" stroke="#4c4c4c" stroke-width="1.1"/><text transform="translate(27,434.35) rotate(-90)" text-anchor="middle" class="t">2</text><line x1="33" y1="417.32" x2="37.5" y2="417.32" stroke="#4c4c4c" stroke-width="1.1"/><text transform="translate(27,417.32) rotate(-90)" text-anchor="middle" class="t">3</text><line x1="33" y1="400.3" x2="37.5" y2="400.3" stroke="#4c4c4c" stroke-width="1.1"/><text transform="translate(27,400.3) rotate(-90)" text-anchor="middle" class="t">4</text><text x="184.5" y="551.65" text-anchor="middle" class="t">Year</text><text transform="translate(9.5,457.68) rotate(-90)" text-anchor="middle" class="yl">Wind speed (m/sec)</text><text x="185" y="384.4" text-anchor="middle" class="ti" textLength="150.99" lengthAdjust="spacingAndGlyphs">Forecasts from HOLT-WINTERS</text></g>
<g><polygon points="544.37,466.56 548.11,470.35 551.85,473.25 555.58,475.7 559.32,477.85 563.06,479.8 566.8,481.59 570.53,483.26 574.27,484.83 578.01,486.31 581.74,487.72 585.48,489.07 589.22,490.36 592.95,491.6 596.69,492.8 600.43,493.96 604.16,495.09 607.9,496.18 611.64,497.24 615.38,498.27 619.11,499.28 622.85,500.27 626.59,501.23 630.32,502.17 634.06,503.09 637.8,504 641.53,504.89 645.27,505.76 649.01,506.61 652.75,507.45 656.48,508.28 660.22,509.09 663.96,509.89 667.69,510.68 671.43,511.46 671.43,403.4 667.69,404.18 663.96,404.97 660.22,405.77 656.48,406.58 652.75,407.41 649.01,408.25 645.27,409.11 641.53,409.98 637.8,410.86 634.06,411.77 630.32,412.69 626.59,413.63 622.85,414.6 619.11,415.58 615.38,416.59 611.64,417.62 607.9,418.69 604.16,419.78 600.43,420.9 596.69,422.06 592.95,423.26 589.22,424.5 585.48,425.8 581.74,427.14 578.01,428.55 574.27,430.03 570.53,431.6 566.8,433.27 563.06,435.06 559.32,437.01 555.58,439.17 551.85,441.61 548.11,444.52 544.37,448.3" fill="#DBDBDF"/><polygon points="544.37,463.4 548.11,465.88 551.85,467.77 555.58,469.37 559.32,470.78 563.06,472.06 566.8,473.23 570.53,474.32 574.27,475.35 578.01,476.32 581.74,477.24 585.48,478.12 589.22,478.96 592.95,479.78 596.69,480.56 600.43,481.32 604.16,482.05 607.9,482.77 611.64,483.46 615.38,484.14 619.11,484.8 622.85,485.44 626.59,486.07 630.32,486.69 634.06,487.29 637.8,487.88 641.53,488.46 645.27,489.03 649.01,489.59 652.75,490.14 656.48,490.68 660.22,491.21 663.96,491.74 667.69,492.25 671.43,492.76 671.43,422.1 667.69,422.61 663.96,423.13 660.22,423.65 656.48,424.18 652.75,424.72 649.01,425.27 645.27,425.83 641.53,426.4 637.8,426.98 634.06,427.57 630.32,428.18 626.59,428.79 622.85,429.42 619.11,430.07 615.38,430.73 611.64,431.4 607.9,432.1 604.16,432.81 600.43,433.55 596.69,434.3 592.95,435.09 589.22,435.9 585.48,436.75 581.74,437.63 578.01,438.55 574.27,439.52 570.53,440.54 566.8,441.63 563.06,442.8 559.32,444.08 555.58,445.49 551.85,447.09 548.11,448.99 544.37,451.46" fill="#B1B5CE"/><polyline points="398.63,461.51 402.37,455.43 406.1,453.75 409.84,448.2 413.58,458.41 417.31,462.92 421.05,474.37 424.79,476.68 428.53,472.98 432.26,470.54 436,464.66 439.74,452.14 443.47,453.75 447.21,462.34 450.95,455.84 454.69,455.84 458.42,449.03 462.16,443.13 465.9,443.13 469.63,447.37 473.37,447.37 477.11,448.67 480.84,450.98 484.58,450.98 488.32,450.62 492.06,450.28 495.79,452.79 499.53,453.96 503.27,453.01 507,456.49 510.74,456.71 514.48,457.58 518.21,457.27 521.95,457.34 525.69,457.34 529.42,457.79 533.16,457.34 536.9,456.62 540.64,457.88" fill="none" stroke="#000" stroke-width="1.45" stroke-linejoin="round"/><polyline points="544.37,457.43 548.11,457.43 551.85,457.43 555.58,457.43 559.32,457.43 563.06,457.43 566.8,457.43 570.53,457.43 574.27,457.43 578.01,457.43 581.74,457.43 585.48,457.43 589.22,457.43 592.95,457.43 596.69,457.43 600.43,457.43 604.16,457.43 607.9,457.43 611.64,457.43 615.38,457.43 619.11,457.43 622.85,457.43 626.59,457.43 630.32,457.43 634.06,457.43 637.8,457.43 641.53,457.43 645.27,457.43 649.01,457.43 652.75,457.43 656.48,457.43 660.22,457.43 663.96,457.43 667.69,457.43 671.43,457.43" fill="none" stroke="#2297E6" stroke-width="1.6"/><polyline points="544.37,456.62 548.11,445.06 551.85,444.34 555.58,443.8 559.32,447.41 563.06,447.05 566.8,446.32 570.53,448.31 574.27,449.21 578.01,447.77 581.74,449.58 585.48,448.31 589.22,450.84 592.95,451.74 596.69,452.1 600.43,452.83 604.16,453.01 607.9,453.73 611.64,454.63 615.38,455.72 619.11,457.16 622.85,461.5 626.59,463.48 630.32,463.21 634.06,462.94 637.8,464.93 641.53,464.75 645.27,466.01 649.01,468.18 652.75,463.84 656.48,464.2 660.22,463.12 663.96,461.5 667.69,462.4 671.43,458.42" fill="none" stroke="#F00" stroke-width="1.6" stroke-dasharray="1.9 3.9"/><rect x="388.0" y="398.0" width="294.6" height="119.35" fill="none" stroke="#4c4c4c" stroke-width="1.1"/><line x1="436" y1="517.35" x2="436" y2="521.85" stroke="#4c4c4c" stroke-width="1.1"/><text x="436" y="534.15" text-anchor="middle" class="t">1960</text><line x1="510.74" y1="517.35" x2="510.74" y2="521.85" stroke="#4c4c4c" stroke-width="1.1"/><text x="510.74" y="534.15" text-anchor="middle" class="t">1980</text><line x1="585.48" y1="517.35" x2="585.48" y2="521.85" stroke="#4c4c4c" stroke-width="1.1"/><text x="585.48" y="534.15" text-anchor="middle" class="t">2000</text><line x1="660.22" y1="517.35" x2="660.22" y2="521.85" stroke="#4c4c4c" stroke-width="1.1"/><text x="660.22" y="534.15" text-anchor="middle" class="t">2020</text><line x1="383.5" y1="511.16" x2="388.0" y2="511.16" stroke="#4c4c4c" stroke-width="1.1"/><text transform="translate(377.5,511.16) rotate(-90)" text-anchor="middle" class="t">-1</text><line x1="383.5" y1="493.1" x2="388.0" y2="493.1" stroke="#4c4c4c" stroke-width="1.1"/><text transform="translate(377.5,493.1) rotate(-90)" text-anchor="middle" class="t">0</text><line x1="383.5" y1="475.04" x2="388.0" y2="475.04" stroke="#4c4c4c" stroke-width="1.1"/><text transform="translate(377.5,475.04) rotate(-90)" text-anchor="middle" class="t">1</text><line x1="383.5" y1="456.98" x2="388.0" y2="456.98" stroke="#4c4c4c" stroke-width="1.1"/><text transform="translate(377.5,456.98) rotate(-90)" text-anchor="middle" class="t">2</text><line x1="383.5" y1="438.92" x2="388.0" y2="438.92" stroke="#4c4c4c" stroke-width="1.1"/><text transform="translate(377.5,438.92) rotate(-90)" text-anchor="middle" class="t">3</text><line x1="383.5" y1="420.86" x2="388.0" y2="420.86" stroke="#4c4c4c" stroke-width="1.1"/><text transform="translate(377.5,420.86) rotate(-90)" text-anchor="middle" class="t">4</text><line x1="383.5" y1="402.8" x2="388.0" y2="402.8" stroke="#4c4c4c" stroke-width="1.1"/><text transform="translate(377.5,402.8) rotate(-90)" text-anchor="middle" class="t">5</text><text x="534.8" y="551.65" text-anchor="middle" class="t">Year</text><text transform="translate(360,457.68) rotate(-90)" text-anchor="middle" class="yl">Wind speed (m/sec)</text><text x="535.3" y="384.4" text-anchor="middle" class="ti" textLength="95.08" lengthAdjust="spacingAndGlyphs">Forecasts from ETS</text></g>
</svg>
</body></html>
